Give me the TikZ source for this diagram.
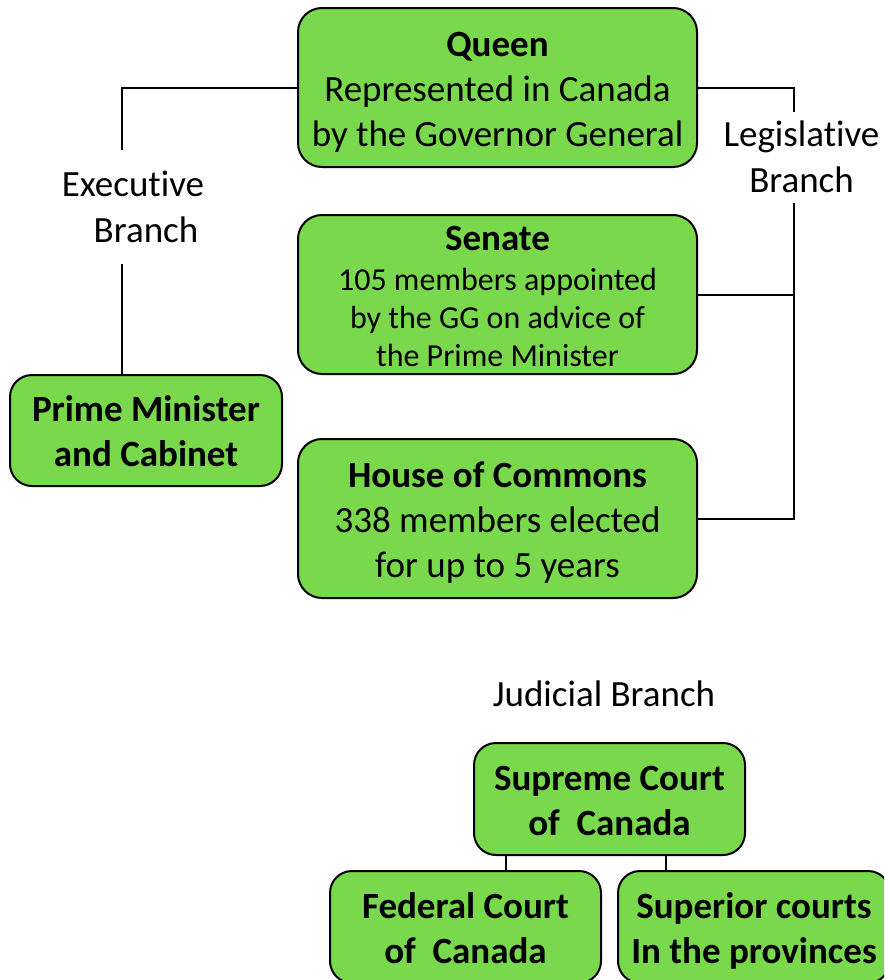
\documentclass[tikz,border=0pt]{standalone}
\usepackage{fontspec}
\setmainfont[Ligatures={NoCommon}]{Carlito}
\definecolor{boxgreen}{RGB}{121,216,76}
\newcommand\st{\rule[-0.21em]{0pt}{1.16em}}
\newcommand\smf{\fontsize{32}{38}\selectfont}
\tikzset{
  box/.style={draw=black, line width=2pt, fill=boxgreen, rounded corners=24pt,
    inner sep=0pt, align=center, font=\fontsize{37}{45}\selectfont},
  lbl/.style={inner sep=0pt, align=center, font=\fontsize{37}{46}\selectfont},
  conn/.style={draw=black, line width=2pt}
}
\begin{document}
\begin{tikzpicture}[x=1pt,y=-1pt]
\useasboundingbox (0,0) rectangle (884,980);
\clip (0,0) rectangle (884,980);
% boxes
\node[box, minimum width=399pt, minimum height=159pt] (queen) at (497.5,87.5)
  {\st\textbf{Queen}\\\st Represented in Canada\\\st by the Governor General};
\node[box, minimum width=399pt, minimum height=159pt] (senate) at (497.5,294.5)
  {\st\textbf{Senate}\\[-5pt]{\smf\st 105 members appointed}\\[-7pt]{\smf\st by the GG on advice of}\\[-7pt]{\smf\st the Prime Minister}};
\node[box, minimum width=399pt, minimum height=159pt] (hoc) at (497.5,518.5)
  {\st\textbf{House of Commons}\\\st 338 members elected\\\st for up to 5 years};
\node[box, minimum width=272pt, minimum height=111pt, rounded corners=22pt] (pm) at (146,430.5)
  {\st\textbf{Prime Minister}\\\st\textbf{and Cabinet}};
\node[box, minimum width=271pt, minimum height=112pt, rounded corners=22pt] (supreme) at (609.5,799)
  {\st\textbf{Supreme Court}\\\st\textbf{of\ \ Canada}};
\node[box, minimum width=271pt, minimum height=112pt, rounded corners=22pt] (federal) at (465.5,927)
  {\st\textbf{Federal Court}\\\st\textbf{of\ \ Canada}};
\node[box, minimum width=272pt, minimum height=112pt, rounded corners=22pt] (superior) at (754,927)
  {\st\textbf{Superior courts}\\\st\textbf{In the provinces}};
% labels
\node[lbl] (exec) at (139.5,207) {\hspace*{-13pt}Executive\\\hspace*{13pt}Branch};
\node[lbl] (legis) at (801.5,157) {Legislative\\Branch};
\node[lbl] (jud) at (604,694) {Judicial Branch};
% connector ends
\coordinate (e1) at (122,150);
\coordinate (e2) at (122,264);
\coordinate (l1) at (794,112);
\coordinate (l2) at (794,203);
\coordinate (j1) at (506,860);
\coordinate (j2) at (666,860);
% connectors
\draw[conn] (queen.west) -| (e1);
\draw[conn] (e2) -- (pm.north -| e2);
\draw[conn] (queen.east) -| (l1);
\draw[conn] (l2) |- (hoc.east);
\draw[conn] (senate.east) -- (senate.east -| l2);
\draw[conn] (supreme.south -| j1) -- (federal.north -| j1);
\draw[conn] (supreme.south -| j2) -- (superior.north -| j2);
\end{tikzpicture}
\end{document}
